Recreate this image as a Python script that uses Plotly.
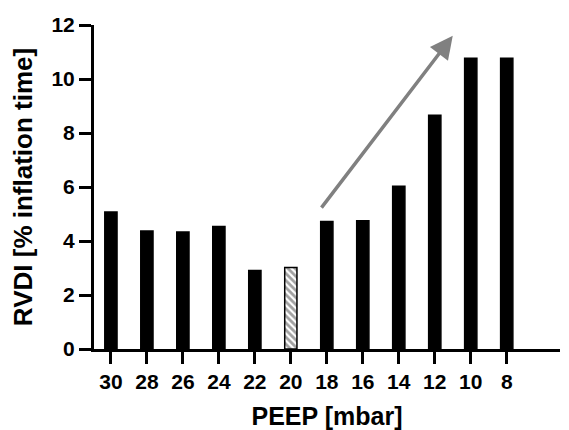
import plotly.graph_objects as go

peep = ["30", "28", "26", "24", "22", "20", "18", "16", "14", "12", "10", "8"]
rvdi = [5.07, 4.37, 4.33, 4.54, 2.91, 3.02, 4.72, 4.75, 6.03, 8.66, 10.77, 10.77]
patterns = ["", "", "", "", "", "\\", "", "", "", "", "", ""]
y_ticks = [0, 2, 4, 6, 8, 10, 12]

FONT = "Liberation Sans, Arial, Helvetica, sans-serif"

fig = go.Figure()
fig.add_trace(go.Bar(
    x=list(range(len(peep))),
    y=rvdi,
    width=0.34,
    marker=dict(
        color=["white" if p else "black" for p in patterns],
        line=dict(color="black", width=1.5),
        pattern=dict(shape=patterns, fgcolor="black", bgcolor="white", size=5, solidity=0.55),
    ),
))

fig.add_annotation(
    x=9.5, y=11.6, ax=5.82, ay=5.18,
    xref="x", yref="y", axref="x", ayref="y",
    showarrow=True, arrowhead=2, arrowsize=1.3, arrowwidth=3.5,
    arrowcolor="#808080", text="",
)

fig.update_layout(
    width=569, height=430,
    margin=dict(l=94, r=9, t=25, b=81),
    plot_bgcolor="white", paper_bgcolor="white",
    showlegend=False,
    font=dict(family=FONT, color="black"),
)
fig.update_xaxes(
    tickmode="array", tickvals=list(range(len(peep))), ticktext=peep,
    range=[-0.47, 12.48], automargin=False,
    showline=True, linecolor="black", linewidth=3,
    ticks="outside", ticklen=12, tickwidth=3, tickcolor="black",
    showgrid=False, zeroline=False,
    tickfont=dict(family=FONT, size=21, weight="bold"),
    title=dict(text="PEEP [mbar]", font=dict(family=FONT, size=25, weight="bold"), standoff=17),
)
fig.update_yaxes(
    range=[0, 12], tickvals=y_ticks, automargin=False,
    showline=True, linecolor="black", linewidth=3,
    ticks="outside", ticklen=12, tickwidth=3, tickcolor="black",
    showgrid=False, zeroline=False,
    tickfont=dict(family=FONT, size=21, weight="bold"),
    title=dict(text="RVDI [% inflation time]", font=dict(family=FONT, size=26, weight="bold"), standoff=12),
)

fig.write_html(
    "out.html",
    config={"displayModeBar": False},
    post_script="document.body.style.margin='0';document.body.style.overflow='hidden';",
)
